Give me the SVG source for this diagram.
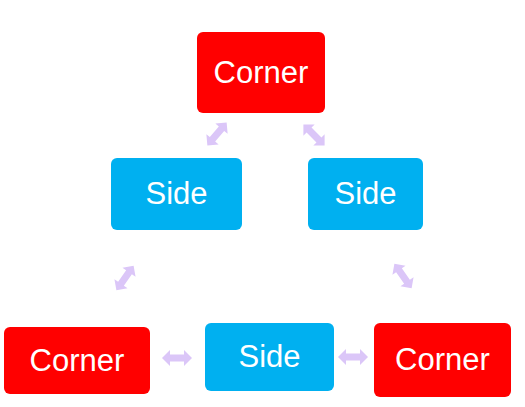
<svg xmlns="http://www.w3.org/2000/svg" xmlns:xlink="http://www.w3.org/1999/xlink" width="525" height="407" viewBox="0 0 525 407">
<style>
.corner{fill:#ff0000}
.side{fill:#00b0f0}
.lbl{fill:#ffffff;font-family:"Liberation Sans",Arial,sans-serif;font-size:31px;text-anchor:middle}
.arr{fill:#dbc6f8}
</style>
<defs>
<path id="dbl" d="M-15,0 L-7,-8 L-7,-3.5 L7,-3.5 L7,-8 L15,0 L7,8 L7,3.5 L-7,3.5 L-7,8 Z"/>
</defs>
<rect width="525" height="407" fill="#ffffff"/>
<g id="connectors" class="arr">
<use xlink:href="#dbl" transform="translate(217,134) rotate(-50)"/>
<use xlink:href="#dbl" transform="translate(314,135) rotate(45)"/>
<use xlink:href="#dbl" transform="translate(125,278) rotate(-55)"/>
<use xlink:href="#dbl" transform="translate(403,276) rotate(55)"/>
<use xlink:href="#dbl" transform="translate(177,358)"/>
<use xlink:href="#dbl" transform="translate(353,357)"/>
</g>
<g id="corner-top">
<rect class="corner" x="197" y="32" width="128" height="81" rx="6"/>
<text class="lbl" x="261" y="83">Corner</text>
</g>
<g id="side-left">
<rect class="side" x="111" y="158" width="131" height="72" rx="6"/>
<text class="lbl" x="176.5" y="204">Side</text>
</g>
<g id="side-right">
<rect class="side" x="308" y="158" width="115" height="72" rx="6"/>
<text class="lbl" x="365.5" y="204">Side</text>
</g>
<g id="corner-bottom-left">
<rect class="corner" x="4" y="327" width="146" height="67" rx="6"/>
<text class="lbl" x="77" y="371">Corner</text>
</g>
<g id="side-bottom">
<rect class="side" x="205" y="323" width="129" height="68" rx="6"/>
<text class="lbl" x="269.5" y="367">Side</text>
</g>
<g id="corner-bottom-right">
<rect class="corner" x="374" y="323" width="137" height="74" rx="6"/>
<text class="lbl" x="442.5" y="370">Corner</text>
</g>
</svg>
